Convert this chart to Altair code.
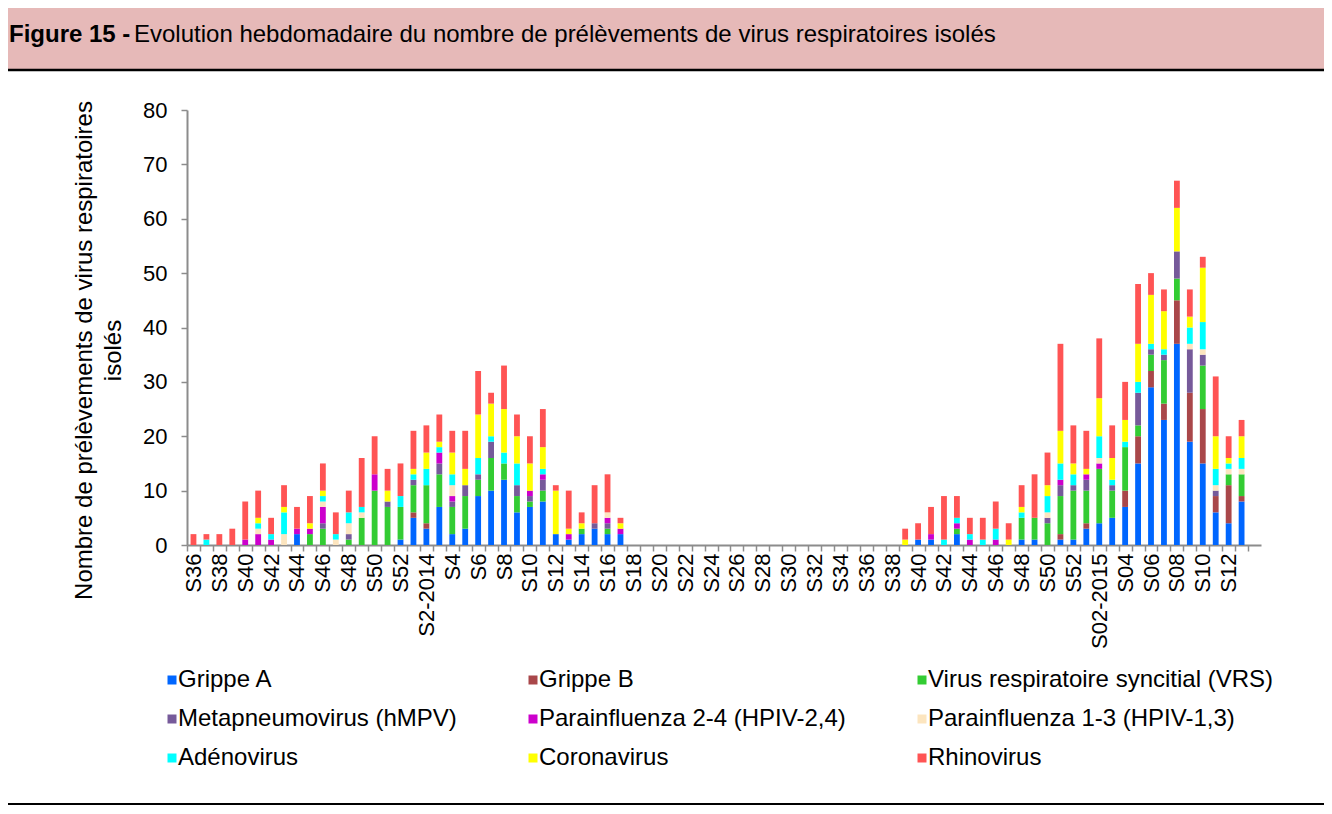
import altair as alt
import pandas as pd

TITLE_BOLD = "Figure 15 -"
TITLE_REST = "Evolution hebdomadaire du nombre de prélèvements de virus respiratoires isolés"
Y_TITLE = ["Nombre de prélèvements de virus respiratoires", "isolés"]

WEEKS_2013 = ["S36", "S37", "S38", "S39", "S40", "S41", "S42", "S43", "S44",
              "S45", "S46", "S47", "S48", "S49", "S50", "S51", "S52"]
WEEKS_2014 = ["S1", "S2-2014", "S3", "S4", "S5", "S6", "S7", "S8", "S9", "S10",
              "S11", "S12", "S13", "S14", "S15", "S16", "S17", "S18", "S19", "S20",
              "S21", "S22", "S23", "S24", "S25", "S26", "S27", "S28", "S29", "S30",
              "S31", "S32", "S33", "S34", "S35", "S36", "S37", "S38", "S39", "S40",
              "S41", "S42", "S43", "S44", "S45", "S46", "S47", "S48", "S49", "S50",
              "S51", "S52"]
WEEKS_2015 = ["S01", "S02-2015", "S03", "S04", "S05", "S06", "S07", "S08", "S09",
              "S10", "S11", "S12", "S13", "S14"]

SERIES = ["Grippe A", "Grippe B", "Virus respiratoire syncitial (VRS)",
          "Metapneumovirus (hMPV)", "Parainfluenza 2-4 (HPIV-2,4)",
          "Parainfluenza 1-3 (HPIV-1,3)", "Adénovirus", "Coronavirus", "Rhinovirus"]
COLORS = ["#0066FF", "#A9474A", "#33CC33", "#765A9A", "#CC00CC",
          "#FCE5BF", "#00FFFF", "#FFFF00", "#FF5454"]

# rows: 2013 S36-S52 | 2014 S1-S13 | S14-S26 | S27-S39 | S40-S52 | 2015 S01-S14
GRIPPE_A = [0, 0, 0, 0, 0, 0, 0, 0, 2, 0, 0, 0, 0, 0, 0, 0, 1,
            5, 3, 7, 2, 3, 9, 10, 12, 6, 7, 8, 2, 1,
            2, 3, 2, 2, 0, 0, 0, 0, 0, 0, 0, 0, 0,
            0, 0, 0, 0, 0, 0, 0, 0, 0, 0, 0, 0, 0,
            1, 1, 0, 2, 0, 0, 0, 0, 1, 1, 0, 1, 1,
            3, 4, 5, 7, 15, 29, 23, 37, 19, 15, 6, 4, 8, 0]
GRIPPE_B = [0, 0, 0, 0, 0, 0, 0, 0, 0, 0, 0, 0, 0, 0, 0, 0, 0,
            1, 1, 0, 0, 0, 0, 0, 0, 0, 0, 0, 0, 0,
            0, 0, 0, 0, 0, 0, 0, 0, 0, 0, 0, 0, 0,
            0, 0, 0, 0, 0, 0, 0, 0, 0, 0, 0, 0, 0,
            0, 0, 0, 0, 0, 0, 0, 0, 0, 0, 0, 1, 0,
            1, 0, 0, 3, 5, 3, 3, 8, 9, 10, 3, 7, 1, 0]
VRS = [0, 0, 0, 0, 0, 0, 0, 0, 0, 2, 3, 0, 1, 5, 10, 7, 6,
       5, 7, 6, 5, 6, 3, 6, 3, 3, 1, 2, 0, 0,
       1, 0, 1, 0, 0, 0, 0, 0, 0, 0, 0, 0, 0,
       0, 0, 0, 0, 0, 0, 0, 0, 0, 0, 0, 0, 0,
       0, 0, 0, 1, 0, 0, 0, 0, 4, 4, 4, 7, 9,
       6, 10, 5, 8, 2, 3, 8, 4, 0, 8, 0, 2, 4, 0]
HMPV = [0, 0, 0, 0, 0, 0, 0, 0, 0, 0, 1, 0, 1, 0, 0, 1, 0,
        1, 0, 2, 1, 2, 1, 3, 0, 2, 1, 2, 0, 0,
        0, 1, 1, 0, 0, 0, 0, 0, 0, 0, 0, 0, 0,
        0, 0, 0, 0, 0, 0, 0, 0, 0, 0, 0, 0, 0,
        0, 0, 0, 0, 0, 0, 0, 0, 0, 0, 1, 2, 1,
        2, 0, 1, 0, 6, 1, 1, 5, 8, 2, 1, 0, 0, 0]
HPIV_24 = [0, 0, 0, 0, 1, 2, 1, 0, 1, 1, 3, 0, 0, 0, 3, 0, 0,
           0, 0, 2, 1, 0, 0, 0, 0, 0, 1, 1, 0, 1,
           0, 0, 1, 1, 0, 0, 0, 0, 0, 0, 0, 0, 0,
           0, 0, 0, 0, 0, 0, 0, 0, 0, 0, 0, 0, 0,
           0, 1, 0, 1, 1, 0, 1, 0, 0, 0, 0, 1, 0,
           1, 1, 0, 0, 0, 0, 0, 0, 0, 0, 0, 0, 0, 0]
HPIV_13 = [0, 0, 0, 0, 0, 1, 0, 2, 0, 0, 1, 1, 2, 1, 0, 0, 0,
           0, 0, 0, 2, 0, 0, 0, 0, 0, 0, 0, 0, 0,
           0, 0, 1, 0, 0, 0, 0, 0, 0, 0, 0, 0, 0,
           0, 0, 0, 0, 0, 0, 0, 0, 0, 0, 0, 0, 0,
           0, 0, 0, 0, 0, 0, 0, 0, 0, 0, 1, 0, 0,
           0, 1, 0, 0, 0, 0, 0, 0, 1, 1, 1, 1, 1, 0]
ADENO = [0, 1, 0, 0, 0, 1, 1, 4, 0, 0, 1, 1, 2, 1, 0, 0, 2,
         1, 3, 1, 2, 0, 3, 1, 2, 4, 0, 1, 0, 0,
         0, 0, 0, 0, 0, 0, 0, 0, 0, 0, 0, 0, 0,
         0, 0, 0, 0, 0, 0, 0, 0, 0, 0, 0, 0, 0,
         0, 0, 1, 1, 1, 1, 2, 0, 1, 0, 3, 3, 2,
         0, 4, 1, 1, 2, 1, 1, 0, 3, 5, 3, 1, 2, 0]
CORONA = [0, 0, 0, 0, 0, 1, 0, 1, 0, 1, 1, 0, 0, 0, 0, 2, 0,
          1, 3, 1, 4, 3, 8, 6, 8, 5, 5, 4, 8, 1,
          1, 0, 0, 1, 0, 0, 0, 0, 0, 0, 0, 0, 0,
          0, 0, 0, 0, 0, 0, 0, 0, 0, 0, 0, 0, 1,
          0, 0, 0, 0, 0, 0, 0, 1, 1, 0, 2, 6, 2,
          1, 7, 4, 4, 7, 9, 7, 8, 2, 10, 6, 1, 4, 0]
RHINO = [2, 1, 2, 3, 7, 5, 3, 4, 4, 5, 5, 4, 4, 9, 7, 4, 6,
         7, 5, 5, 4, 7, 8, 2, 8, 4, 5, 7, 1, 7,
         2, 7, 7, 1, 0, 0, 0, 0, 0, 0, 0, 0, 0,
         0, 0, 0, 0, 0, 0, 0, 0, 0, 0, 0, 0, 2,
         3, 5, 8, 4, 3, 4, 5, 3, 4, 8, 6, 16, 7,
         7, 11, 6, 7, 11, 4, 4, 5, 5, 2, 11, 4, 3, 0]

VALUES = [GRIPPE_A, GRIPPE_B, VRS, HMPV, HPIV_24, HPIV_13, ADENO, CORONA, RHINO]

WEEKS = WEEKS_2013 + WEEKS_2014 + WEEKS_2015
N = len(WEEKS)
# every other week label is displayed (the last, empty week carries none)
KEYS = [f"{i:02d}|{w if (i % 2 == 0 and i < N - 1) else ''}" for i, w in enumerate(WEEKS)]

rows = []
for rank, (name, vals) in enumerate(zip(SERIES, VALUES)):
    for key, v in zip(KEYS, vals):
        if v > 0:
            rows.append({"key": key, "virus": name, "n": v, "rank": rank})
df = pd.DataFrame(rows)

FONT = "Liberation Sans"
W, H = 1074, 435
PAD = {"left": 179, "top": 102, "right": 63, "bottom": 261}
STEP = W / N
AXIS_GRAY = "#8C8C8C"

bars = alt.Chart(df).mark_bar(width=alt.RelativeBandSize(0.45)).encode(
    x=alt.X("key:N",
            scale=alt.Scale(domain=KEYS, paddingInner=0, paddingOuter=0),
            axis=alt.Axis(title=None, labelAngle=-90, labelFontSize=22,
                          labelExpr="split(datum.value, '|')[1]",
                          tickOffset=-STEP / 2, labelOffset=STEP / 2,
                          tickSize=6, tickColor=AXIS_GRAY, tickWidth=1.5,
                          domainColor=AXIS_GRAY, domainWidth=2,
                          labelPadding=2, labelColor="black", grid=False,
                          labelFont=FONT)),
    y=alt.Y("n:Q", stack="zero",
            scale=alt.Scale(domain=[0, 80], nice=False),
            axis=alt.Axis(values=list(range(0, 81, 10)), grid=False,
                          tickSize=6, tickColor=AXIS_GRAY, tickWidth=1.5,
                          domainColor=AXIS_GRAY, domainWidth=2,
                          labelFontSize=22, labelPadding=14, labelColor="black",
                          labelFont=FONT,
                          title=Y_TITLE, titleFontSize=24, titleFontWeight="normal",
                          titleFont=FONT, titleColor="black",
                          titleX=-103, titleY=240, titleBaseline="middle",
                          titleAlign="center", titleAngle=-90, titleLineHeight=29)),
    color=alt.Color("virus:N",
                    scale=alt.Scale(domain=SERIES, range=COLORS),
                    legend=alt.Legend(title=None, orient="none", legendX=-27, legendY=558,
                                      direction="horizontal",
                                      columns=3, columnPadding=64, rowPadding=15,
                                      symbolType="square", symbolSize=81,
                                      symbolStrokeWidth=0, symbolOpacity=1,
                                      labelFontSize=24, labelFont=FONT, labelColor="black",
                                      labelLimit=500, labelOffset={"expr": "-6"}, padding=0,
                                      gridAlign="each")),
    order=alt.Order("rank:Q", sort="ascending"),
)

title_df = pd.DataFrame({"bold": [TITLE_BOLD], "rest": [TITLE_REST]})
base = alt.Chart(title_df)
banner = base.mark_rect(color="#E6B9B8").encode(
    x=alt.value(-PAD["left"]), x2=alt.value(W + PAD["right"]),
    y=alt.value(-105), y2=alt.value(-41))
line_top = base.mark_rule(color="black", strokeWidth=2.5).encode(
    x=alt.value(-PAD["left"]), x2=alt.value(W + PAD["right"]), y=alt.value(-106))
line_mid = base.mark_rule(color="black", strokeWidth=2.5).encode(
    x=alt.value(-PAD["left"]), x2=alt.value(W + PAD["right"]), y=alt.value(-40))
line_bot = base.mark_rule(color="black", strokeWidth=2).encode(
    x=alt.value(-PAD["left"]), x2=alt.value(W + PAD["right"]), y=alt.value(H + PAD["bottom"] - 2))
t_bold = base.mark_text(align="left", baseline="alphabetic", fontSize=24,
                        fontWeight="bold", font=FONT, color="black").encode(
    x=alt.value(-178), y=alt.value(-68), text="bold:N")
t_rest = base.mark_text(align="left", baseline="alphabetic", fontSize=24,
                        font=FONT, color="black").encode(
    x=alt.value(-53), y=alt.value(-68), text="rest:N")

chart = alt.layer(banner, line_top, line_mid, line_bot, t_bold, t_rest, bars).properties(
    width=W, height=H,
    autosize=alt.AutoSizeParams(type="none"),
    padding=PAD,
).configure(font=FONT).configure_view(stroke=None)

chart.save("out.html", embed_options={"renderer": "svg", "actions": False})
